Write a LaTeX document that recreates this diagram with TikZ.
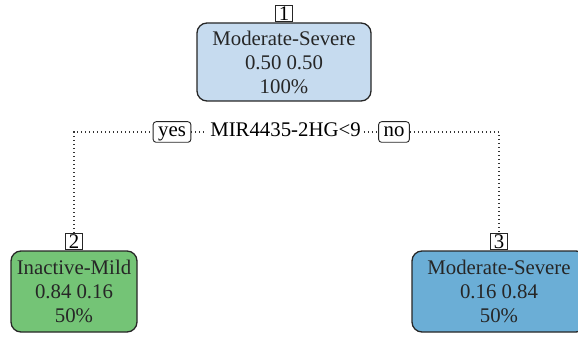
\documentclass[tikz,border=0pt]{standalone}
\usepackage{fontspec}
\setmainfont{Liberation Serif}
\usetikzlibrary{positioning}
\definecolor{ms}{HTML}{C6DBEF}
\definecolor{im}{HTML}{74C476}
\definecolor{ms2}{HTML}{6BAED6}
\newcommand{\treefont}{\fontsize{20.8}{24}\selectfont}
\tikzstyle{every picture}+=[x=1pt,y=-1pt]
\tikzstyle{every picture}+=[font=\treefont]
\tikzstyle{leaf}=[draw=black!85, line width=1.3pt, rounded corners=10pt]
\tikzstyle{leaf}+=[align=center, inner sep=2pt, text=black!85]
\tikzstyle{numlab}=[draw=black!85, line width=0.9pt, inner sep=1.2pt]
\tikzstyle{numlab}+=[minimum width=17pt, text height=13.6pt, text depth=0pt]
\tikzstyle{answer}=[draw=black!85, line width=0.9pt, rounded corners=3pt]
\tikzstyle{answer}+=[inner xsep=5pt, inner ysep=1.5pt, fill=white]
\tikzstyle{answer}+=[text height=13.6pt, text depth=4pt]
\tikzstyle{split}=[inner sep=3pt, text height=13.6pt, text depth=4pt]
\tikzstyle{branch}=[draw=black!80, line width=1.1pt, dash pattern=on 1.1pt off 2.9pt]

\begin{document}
\begin{tikzpicture}
\useasboundingbox (0,0) rectangle (578,339);
\clip (0,0) rectangle (578,339);

\node[leaf, fill=ms, minimum width=174pt, minimum height=78pt] (n1) at (284,62)
   {Moderate-Severe\\0.50 0.50\\100\%};
\node[leaf, fill=im, minimum width=126pt, minimum height=81pt] (n2) at (74,291.5)
   {Inactive-Mild\\0.84 0.16\\50\%};
\node[leaf, fill=ms2, minimum width=174pt, minimum height=81pt] (n3) at (499,291.5)
   {Moderate-Severe\\0.16 0.84\\50\%};

\node[numlab, above=0.6pt of n1] (lab1) {1};
\node[numlab, above=0.6pt of n2] (lab2) {2};
\node[numlab, above=0.6pt of n3] (lab3) {3};

\node[split] (mir) at (285.5,132) {MIR4435-2HG<9};
\node[answer] (yes) at (172,132) {yes};
\node[answer] (no) at (394,132) {no};

\path[branch]
   (lab2.north) |- (yes.west)
   (yes.east) -- (mir.west)
   (mir.east) -- (no.west)
   (no.east) -| (lab3.north)
;
\end{tikzpicture}
\end{document}
